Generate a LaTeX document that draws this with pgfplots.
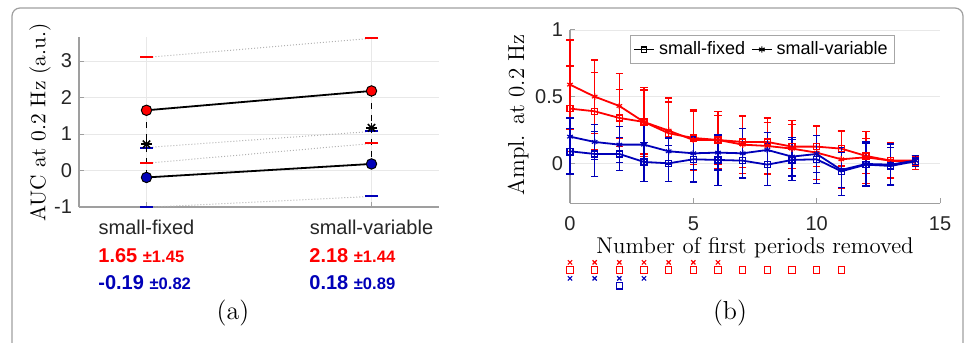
\documentclass[border=0pt]{standalone}
\usepackage{fontspec}
\setsansfont{Liberation Sans}
\usepackage{pgfplots}
\usepackage{pgfplotstable}
\pgfplotsset{compat=1.18}
\definecolor{mred}{rgb}{1,0,0}
\definecolor{mblue}{rgb}{0,0,0.72}

\pgfplotstableread{
x y e
0 0.59 0.335
1 0.50 0.275
2 0.43 0.245
3 0.31 0.26
4 0.245 0.245
5 0.175 0.225
6 0.175 0.215
7 0.14 0.215
8 0.13 0.21
9 0.11 0.21
10 0.08 0.20
11 0.03 0.215
12 0.045 0.195
13 0.02 0.135
14 0.02 0.04
}\redvar
\pgfplotstableread{
x y e
0 0.41 0.32
1 0.39 0.29
2 0.34 0.215
3 0.31 0.24
4 0.225 0.235
5 0.19 0.20
6 0.175 0.185
7 0.16 0.19
8 0.16 0.145
9 0.125 0.165
10 0.125 0.15
11 0.11 0.13
12 0.055 0.13
13 0.02 0.125
14 0.005 0.05
}\redfix
\pgfplotstableread{
x y e
0 0.20 0.14
1 0.16 0.13
2 0.14 0.135
3 0.14 0.15
4 0.09 0.10
5 0.075 0.12
6 0.08 0.13
7 0.075 0.185
8 0.10 0.13
9 0.05 0.145
10 0.07 0.14
11 -0.05 0.13
12 -0.005 0.165
13 -0.01 0.155
14 0.02 0.04
}\bluevar
\pgfplotstableread{
x y e
0 0.09 0.17
1 0.07 0.17
2 0.07 0.125
3 0.01 0.145
4 0.00 0.135
5 0.03 0.17
6 0.025 0.19
7 0.02 0.125
8 -0.01 0.155
9 0.025 0.155
10 0.03 0.18
11 -0.06 0.18
12 -0.01 0.16
13 -0.02 0.14
14 0.015 0.03
}\bluefix

\begin{document}
\begin{tikzpicture}
\useasboundingbox (0,0) rectangle (482.5pt,171.5pt);
\draw[gray!75, line width=0.6pt, rounded corners=4pt] (6pt,-6pt) rectangle (481.5pt,167.5pt);

% ---------------- panel (a)
\begin{axis}[
  at={(39.5pt,68pt)}, anchor=south west,
  scale only axis, width=180pt, height=84.85pt,
  xmin=0.7, xmax=2.3, ymin=-1, ymax=3.65,
  xtick={1,2}, xticklabels={small-fixed,small-variable},
  ytick={-1,0,1,2,3}, yticklabels={-1,0,1,2,3},
  xmajorgrids, ymajorgrids, grid style={gray!18, line width=0.4pt},
  axis x line*=bottom, axis y line*=left,
  axis line style={gray!75, line width=0.6pt},
  tick style={gray!75, line width=0.5pt}, tick align=inside, major tick length=2.5pt,
  ticklabel style={font=\sffamily\fontsize{10}{12}\selectfont, text=black!85},
  xticklabel style={yshift=-3pt},
  ylabel={AUC at 0.2 Hz (a.u.)},
  ylabel style={font=\fontsize{10.7}{12}\selectfont, at={(axis description cs:-0.108,0.498)}, anchor=center},
  clip=false,
]
\addplot[gray!60, densely dotted, line width=0.5pt] coordinates {(1,3.10) (2,3.62)};
\addplot[gray!60, densely dotted, line width=0.5pt] coordinates {(1,0.20) (2,0.74)};
\addplot[gray!60, densely dotted, line width=0.5pt] coordinates {(1,0.63) (2,1.07)};
\addplot[gray!60, densely dotted, line width=0.5pt] coordinates {(1,-1.01) (2,-0.71)};
\addplot[black, dashed, line width=0.6pt] coordinates {(1,1.65) (1,-0.19)};
\addplot[black, dashed, line width=0.6pt] coordinates {(2,2.18) (2,0.18)};
\addplot[only marks, mark=-, mark size=3.3pt, mred, line width=1pt] coordinates {(1,3.10) (1,0.20) (2,3.62) (2,0.74)};
\addplot[only marks, mark=-, mark size=3.3pt, mblue, line width=1pt] coordinates {(1,0.63) (1,-1.01) (2,1.07) (2,-0.71)};
\addplot[only marks, mark=+, mark size=2.6pt, black, line width=0.8pt] coordinates {(1,0.72) (2,1.17)};
\addplot[only marks, mark=x, mark size=2.6pt, black, line width=0.8pt] coordinates {(1,0.72) (2,1.17)};
\addplot[black, line width=0.9pt, mark=*, mark size=2.6pt, mark options={fill=mred, draw=black, line width=0.5pt}] coordinates {(1,1.65) (2,2.18)};
\addplot[black, line width=0.9pt, mark=*, mark size=2.6pt, mark options={fill=mblue, draw=black, line width=0.5pt}] coordinates {(1,-0.19) (2,0.18)};
\end{axis}

\node[anchor=west, inner sep=0, text=mred, font=\sffamily\bfseries\fontsize{10}{12}\selectfont] at (49pt,43.5pt) {1.65 {\fontsize{8.3}{10}\selectfont ±1.45}};
\node[anchor=west, inner sep=0, text=mblue, font=\sffamily\bfseries\fontsize{10}{12}\selectfont] at (49pt,30pt) {-0.19 {\fontsize{8.3}{10}\selectfont ±0.82}};
\node[anchor=west, inner sep=0, text=mred, font=\sffamily\bfseries\fontsize{10}{12}\selectfont] at (154.5pt,43.5pt) {2.18 {\fontsize{8.3}{10}\selectfont ±1.44}};
\node[anchor=west, inner sep=0, text=mblue, font=\sffamily\bfseries\fontsize{10}{12}\selectfont] at (154.5pt,30pt) {0.18 {\fontsize{8.3}{10}\selectfont ±0.89}};
\node[font=\fontsize{13}{15}\selectfont] at (116.5pt,15pt) {(a)};
\node[font=\fontsize{13}{15}\selectfont] at (365pt,15pt) {(b)};

% ---------------- panel (b)
\begin{axis}[
  at={(285pt,69.85pt)}, anchor=south west,
  scale only axis, width=185pt, height=86.67pt,
  xmin=0, xmax=15, ymin=-0.3, ymax=1,
  xtick={0,5,10,15}, xticklabels={0,5,10,15},
  ytick={0,0.5,1}, yticklabels={0,0.5,1},
  ymajorgrids, grid style={gray!18, line width=0.4pt},
  axis x line*=bottom, axis y line*=left,
  axis line style={gray!75, line width=0.6pt},
  tick style={gray!75, line width=0.5pt}, tick align=inside, major tick length=2.5pt,
  ticklabel style={font=\sffamily\fontsize{10}{12}\selectfont, text=black!85},
  xticklabel style={yshift=-3pt},
  xlabel={Number of first periods removed},
  xlabel style={font=\fontsize{11.4}{13}\selectfont, at={(axis description cs:0.5,-0.258)}, anchor=center},
  ylabel={Ampl. at 0.2 Hz},
  ylabel style={font=\fontsize{11.5}{13}\selectfont, at={(axis description cs:-0.14,0.51)}, anchor=center},
  legend columns=2,
  legend style={at={(axis description cs:0.162,0.971)}, anchor=north west,
    font=\sffamily\fontsize{9}{10}\selectfont, draw=gray!70, line width=0.5pt,
    inner xsep=1.5pt, inner ysep=1pt, /tikz/every even column/.append style={column sep=1pt}},
  legend image code/.code={\draw[mark repeat=2, mark phase=2] plot coordinates {(0pt,0pt) (5pt,0pt) (10pt,0pt)};},
  clip=false,
]
\addlegendimage{black, line width=0.8pt, mark=square, mark size=1.3pt, mark options={line width=0.6pt}}
\addlegendentry{small-fixed}
\addlegendimage{black, line width=0.8pt, mark=asterisk, mark size=1.6pt, mark options={line width=0.6pt}}
\addlegendentry{small-variable}

\addplot[forget plot, mred, line width=0.9pt, mark=asterisk, mark size=1.6pt, mark options={line width=0.6pt},
  error bars/.cd, y dir=both, y explicit, error bar style={line width=0.75pt},
  error mark options={rotate=90, mark size=1.8pt, line width=0.75pt}]
  table[x=x, y=y, y error=e] {\redvar};
\addplot[forget plot, mred, line width=0.9pt, mark=square, mark size=1.5pt, mark options={line width=0.6pt},
  error bars/.cd, y dir=both, y explicit, error bar style={line width=0.75pt},
  error mark options={rotate=90, mark size=1.8pt, line width=0.75pt}]
  table[x=x, y=y, y error=e] {\redfix};
\addplot[forget plot, mblue, line width=0.9pt, mark=asterisk, mark size=1.6pt, mark options={line width=0.6pt},
  error bars/.cd, y dir=both, y explicit, error bar style={line width=0.75pt},
  error mark options={rotate=90, mark size=1.8pt, line width=0.75pt}]
  table[x=x, y=y, y error=e] {\bluevar};
\addplot[forget plot, mblue, line width=0.9pt, mark=square, mark size=1.5pt, mark options={line width=0.6pt},
  error bars/.cd, y dir=both, y explicit, error bar style={line width=0.75pt},
  error mark options={rotate=90, mark size=1.8pt, line width=0.75pt}]
  table[x=x, y=y, y error=e] {\bluefix};

% significance markers
\addplot[forget plot, only marks, mark=x, mark size=1.5pt, mred, line width=0.6pt] coordinates {(0,-0.743) (1,-0.743) (2,-0.743) (3,-0.743) (4,-0.743) (5,-0.743) (6,-0.743)};
\addplot[forget plot, only marks, mark=square, mark size=1.6pt, mred, line width=0.6pt] coordinates {(0,-0.80) (1,-0.80) (2,-0.80) (3,-0.80) (4,-0.80) (5,-0.80) (6,-0.80) (7,-0.80) (8,-0.80) (9,-0.80) (10,-0.80) (11,-0.80)};
\addplot[forget plot, only marks, mark=x, mark size=1.5pt, mblue, line width=0.6pt] coordinates {(0,-0.863) (1,-0.863) (2,-0.863) (3,-0.863)};
\addplot[forget plot, only marks, mark=square, mark size=1.6pt, mblue, line width=0.6pt] coordinates {(2,-0.918)};
\end{axis}
\end{tikzpicture}
\end{document}
